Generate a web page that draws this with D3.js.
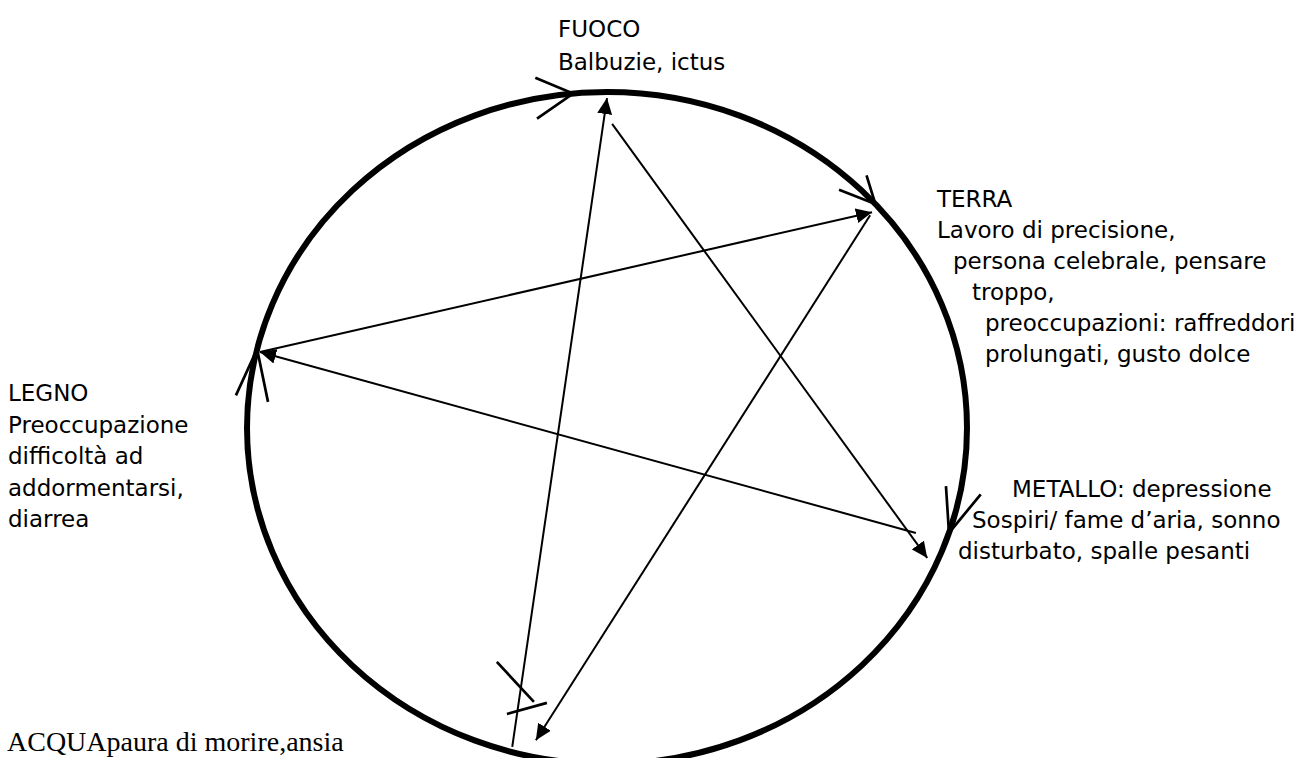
<!DOCTYPE html>
<html lang="it">
<head>
    <meta charset="UTF-8">
    <title>Cinque elementi</title>
    <script src="https://d3js.org/d3.v7.min.js"></script>
    <style>
        body { margin: 0; background: #fff; }
    </style>
</head>
<body>
    <svg id="chart" width="1316" height="758"></svg>
    <script>
    // testo dei cinque elementi
    const fuocoLines = ["FUOCO", "Balbuzie, ictus"];
    const terraLines = ["TERRA", "Lavoro di precisione,", "persona celebrale, pensare", "troppo,", "preoccupazioni: raffreddori", "prolungati, gusto dolce"];
    const metalloLines = ["METALLO: depressione", "Sospiri/ fame d\u2019aria, sonno", "disturbato, spalle pesanti"];
    const legnoLines = ["LEGNO", "Preoccupazione", "difficoltà ad", "addormentarsi,", "diarrea"];
    const acquaLines = ["ACQUApaura di morire,ansia"];

    // frecce della stella: angolo sull'ellisse (gradi) e frazione del raggio
    const arrowNames = ["ACQUA-FUOCO", "FUOCO-METALLO", "METALLO-LEGNO", "LEGNO-TERRA", "TERRA-ACQUA"];
    const arrowFromAngle = [105.5, -89.1, 20.0, 193.2, -40.9];
    const arrowFromRadius = [0.985, 0.905, 0.913, 0.990, 0.967];
    const arrowToAngle = [-90.0, 23.5, 193.2, -41.1, 102.0];
    const arrowToRadius = [0.982, 0.970, 0.990, 0.977, 0.950];

    // punte aperte sul cerchio (senso orario): angolo, apertura dei bracci, lunghezza
    const chevronAngle = [-95.4, -41.8, 18.2, -166.4];
    const chevronArmA = [27.8, -24.9, -23.1, 10];
    const chevronArmB = [-29.8, 26.6, 20, -26.2];
    const chevronLenA = [41, 39, 47, 51];
    const chevronLenB = [44, 30, 50, 54];

    // due tratti in basso vicino ad ACQUA (coordinate normalizzate dell'ellisse)
    const acquaMarks = [
        [[-0.306, 0.696], [-0.203, 0.815]],
        [[-0.278, 0.851], [-0.167, 0.818]]
    ];

    const svg = d3.select("#chart");
    const cx = 607, cy = 428, rx = 360, ry = 336;

    const x = d3.scaleLinear().domain([-1, 1]).range([cx - rx, cx + rx]);
    const y = d3.scaleLinear().domain([-1, 1]).range([cy - ry, cy + ry]);
    const rad = d => d * Math.PI / 180;
    const onEllipse = (t, r) => [x(r * Math.cos(rad(t))), y(r * Math.sin(rad(t)))];

    svg.append("defs").append("marker")
        .attr("id", "head")
        .attr("markerUnits", "userSpaceOnUse")
        .attr("viewBox", "0 -8 16 16")
        .attr("refX", 16)
        .attr("refY", 0)
        .attr("markerWidth", 16)
        .attr("markerHeight", 16)
        .attr("orient", "auto")
        .append("path")
        .attr("d", "M0,-7.5L16,0L0,7.5Z")
        .attr("fill", "#000");

    // ellisse
    svg.append("ellipse")
        .attr("cx", x(0))
        .attr("cy", y(0))
        .attr("rx", x(1) - x(0))
        .attr("ry", y(1) - y(0))
        .attr("fill", "none")
        .attr("stroke", "#000")
        .attr("stroke-width", 6);

    // frecce
    svg.selectAll("line.arrow")
        .data(arrowNames)
        .enter().append("line")
        .attr("class", "arrow")
        .each(function(d, i) {
            const a = onEllipse(arrowFromAngle[i], arrowFromRadius[i]);
            const b = onEllipse(arrowToAngle[i], arrowToRadius[i]);
            d3.select(this)
                .attr("x1", a[0]).attr("y1", a[1])
                .attr("x2", b[0]).attr("y2", b[1]);
        })
        .attr("stroke", "#000")
        .attr("stroke-width", 2)
        .attr("marker-end", "url(#head)");

    // punte aperte
    const chevrons = chevronAngle.map((t, i) => {
        const apex = onEllipse(t, 1);
        const tx = -(x(1) - x(0)) * Math.sin(rad(t));
        const ty = (y(1) - y(0)) * Math.cos(rad(t));
        const back = Math.atan2(-ty, -tx);
        const armA = [apex[0] + chevronLenA[i] * Math.cos(back + rad(chevronArmA[i])),
                      apex[1] + chevronLenA[i] * Math.sin(back + rad(chevronArmA[i]))];
        const armB = [apex[0] + chevronLenB[i] * Math.cos(back + rad(chevronArmB[i])),
                      apex[1] + chevronLenB[i] * Math.sin(back + rad(chevronArmB[i]))];
        return [armA, apex, armB];
    });

    svg.selectAll("path.chevron")
        .data(chevrons)
        .enter().append("path")
        .attr("class", "chevron")
        .attr("d", d3.line())
        .attr("fill", "none")
        .attr("stroke", "#000")
        .attr("stroke-width", 2.7);

    svg.selectAll("line.tick")
        .data(acquaMarks)
        .enter().append("line")
        .attr("class", "tick")
        .attr("x1", d => x(d[0][0])).attr("y1", d => y(d[0][1]))
        .attr("x2", d => x(d[1][0])).attr("y2", d => y(d[1][1]))
        .attr("stroke", "#000")
        .attr("stroke-width", 2.7);

    // etichette
    const labels = [
        { lines: fuocoLines, xs: [558, 558], y0: 37, dy: 33 },
        { lines: terraLines, xs: [937, 937, 953, 972, 985, 985], y0: 207, dy: 31 },
        { lines: metalloLines, xs: [1012, 972, 958], y0: 497, dy: 31 },
        { lines: legnoLines, xs: [8, 8, 8, 8, 8], y0: 401, dy: 31.5 }
    ];

    labels.forEach(lab => {
        svg.append("g")
            .selectAll("text")
            .data(lab.lines)
            .enter().append("text")
            .attr("x", (d, i) => lab.xs[i])
            .attr("y", (d, i) => lab.y0 + i * lab.dy)
            .attr("font-family", "'DejaVu Sans', Verdana, sans-serif")
            .attr("font-size", "23px")
            .attr("fill", "#000")
            .text(d => d);
    });

    svg.append("text")
        .attr("x", 7)
        .attr("y", 751)
        .attr("font-family", "'Liberation Serif', 'Times New Roman', serif")
        .attr("font-size", "28px")
        .attr("fill", "#000")
        .text(acquaLines[0]);
    </script>
</body>
</html>
